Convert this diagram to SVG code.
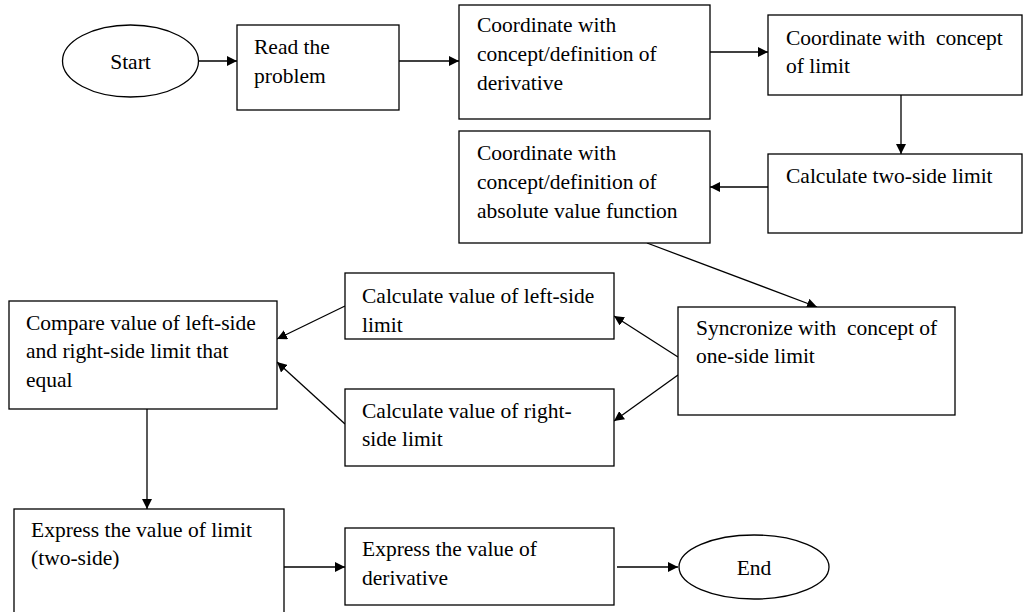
<svg xmlns="http://www.w3.org/2000/svg" width="1025" height="612" viewBox="0 0 1025 612">
<style>
.box{fill:#fff;stroke:#000;stroke-width:1.3}
.t{font-family:"Liberation Serif","Times New Roman",serif;font-size:21.5px;fill:#000}
.c{text-anchor:middle}
.ln{stroke:#000;stroke-width:1.3;fill:none;marker-end:url(#ah)}
</style>
<defs>
<marker id="ah" viewBox="0 0 10 10" refX="10" refY="5" markerWidth="10" markerHeight="10" markerUnits="userSpaceOnUse" orient="auto">
<path d="M0,0 L10,5 L0,10 z" fill="#000"/>
</marker>
</defs>
<rect width="1025" height="612" fill="#fff"/>
<g id="connectors">
<line class="ln" x1="199" y1="61" x2="237" y2="61"/>
<line class="ln" x1="399" y1="61" x2="459" y2="61"/>
<line class="ln" x1="710" y1="52" x2="768" y2="52"/>
<line class="ln" x1="901" y1="95" x2="901" y2="154"/>
<line class="ln" x1="768" y1="187" x2="710" y2="187"/>
<line class="ln" x1="647" y1="243" x2="817" y2="307"/>
<line class="ln" x1="678" y1="357" x2="614" y2="316"/>
<line class="ln" x1="678" y1="375" x2="614" y2="421"/>
<line class="ln" x1="345" y1="306" x2="277" y2="339"/>
<line class="ln" x1="345" y1="424" x2="277" y2="362"/>
<line class="ln" x1="147" y1="409" x2="147" y2="509"/>
<line class="ln" x1="284" y1="567" x2="345" y2="567"/>
<line class="ln" x1="617" y1="567" x2="678" y2="567"/>
</g>
<g id="start"><ellipse class="box" cx="130.5" cy="61" rx="68" ry="36"/><text class="t c" x="130.5" y="69">Start</text></g>
<g id="read"><rect class="box" x="237" y="25" width="162" height="85"/><text class="t" x="254" y="54">Read the</text><text class="t" x="254" y="83">problem</text></g>
<g id="coord-deriv"><rect class="box" x="459" y="5" width="251" height="114"/><text class="t" x="477" y="32">Coordinate with</text><text class="t" x="477" y="61">concept/definition of</text><text class="t" x="477" y="90">derivative</text></g>
<g id="coord-limit"><rect class="box" x="768" y="15" width="254" height="80"/><text class="t" x="786" y="45" xml:space="preserve">Coordinate with  concept</text><text class="t" x="786" y="73">of limit</text></g>
<g id="two-side"><rect class="box" x="768" y="154" width="254" height="79"/><text class="t" x="786" y="183">Calculate two-side limit</text></g>
<g id="coord-abs"><rect class="box" x="459" y="131" width="251" height="112"/><text class="t" x="477" y="160">Coordinate with</text><text class="t" x="477" y="189">concept/definition of</text><text class="t" x="477" y="218">absolute value function</text></g>
<g id="sync"><rect class="box" x="678" y="307" width="277" height="108"/><text class="t" x="696" y="335" xml:space="preserve">Syncronize with  concept of</text><text class="t" x="696" y="363">one-side limit</text></g>
<g id="left-side"><rect class="box" x="345" y="273" width="269" height="66"/><text class="t" x="362" y="303">Calculate value of left-side</text><text class="t" x="362" y="332">limit</text></g>
<g id="right-side"><rect class="box" x="345" y="389" width="269" height="77"/><text class="t" x="362" y="418">Calculate value of right-</text><text class="t" x="362" y="446">side limit</text></g>
<g id="compare"><rect class="box" x="9" y="301" width="268" height="108"/><text class="t" x="26" y="330">Compare value of left-side</text><text class="t" x="26" y="358">and right-side limit that</text><text class="t" x="26" y="387">equal</text></g>
<g id="express-limit"><rect class="box" x="14" y="509" width="270" height="110"/><text class="t" x="31" y="537">Express the value of limit</text><text class="t" x="31" y="565">(two-side)</text></g>
<g id="express-deriv"><rect class="box" x="345" y="528" width="269" height="77"/><text class="t" x="362" y="556">Express the value of</text><text class="t" x="362" y="585">derivative</text></g>
<g id="end"><ellipse class="box" cx="754" cy="567" rx="75" ry="32"/><text class="t c" x="754" y="575">End</text></g>
</svg>
